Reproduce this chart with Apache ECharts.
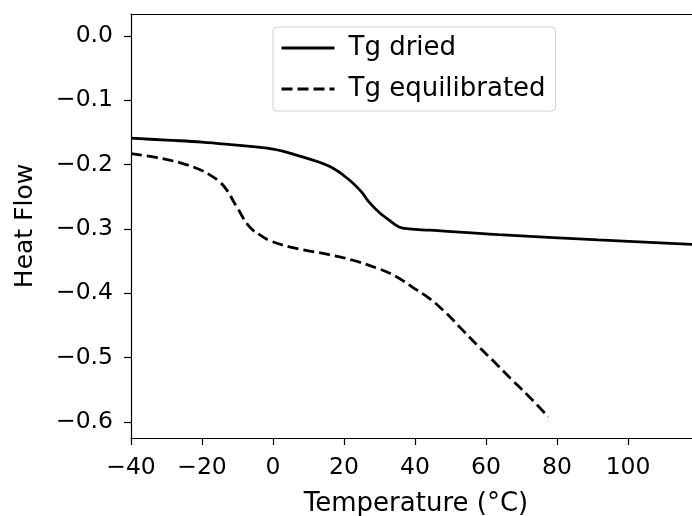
<!DOCTYPE html>
<html>
<head>
<meta charset="utf-8">
<script src="https://cdn.jsdelivr.net/npm/echarts@6/dist/echarts.min.js"></script>
<style>
  html, body { margin: 0; padding: 0; background: #fff; }
  #chart { width: 692px; height: 516px; }
</style>
</head>
<body>
<div id="chart"></div>
<script>
// temperature (°C) and heat flow
const driedTemp = [-40, -30, -20, -12, 0, 7.5, 16, 21.5, 25, 27, 30, 32.6, 35.5, 38.3, 44, 63.5, 91.6, 118];
const driedFlow = [-0.159, -0.162, -0.165, -0.169, -0.176, -0.187, -0.203, -0.224, -0.243, -0.258, -0.275, -0.286, -0.297, -0.300, -0.302, -0.309, -0.317, -0.324];

const equilTemp = [-40, -33, -26.3, -21, -17.8, -15, -13.1, -10.3, -6.6, -3.5, -1, 4.6, 10, 15.8, 22, 29.8, 35, 39.1, 44, 48.6, 53, 57.9, 62, 67.2, 72, 77.5];
const equilFlow = [-0.183, -0.189, -0.197, -0.207, -0.216, -0.227, -0.239, -0.265, -0.297, -0.310, -0.318, -0.328, -0.334, -0.340, -0.348, -0.362, -0.375, -0.390, -0.408, -0.430, -0.455, -0.483, -0.505, -0.534, -0.560, -0.592];

const xTicks = [-40, -20, 0, 20, 40, 60, 80, 100];
const yTicks = [0.0, -0.1, -0.2, -0.3, -0.4, -0.5, -0.6];

const font = "DejaVu Sans";
const pair = (xs, ys) => xs.map((x, i) => [x, ys[i]]);
const minus = s => s.replace("-", "\u2212");
const spine = { show: true, onZero: false, lineStyle: { color: "#000", width: 1.2 } };

const chart = echarts.init(document.getElementById("chart"));

chart.setOption({
  animation: false,
  backgroundColor: "#fff",
  textStyle: { fontFamily: font },
  grid: { left: 131, right: 0, top: 14, bottom: 78, outerBoundsMode: "none", containLabel: false },
  legend: {
    orient: "vertical",
    left: 273, top: 27,
    itemWidth: 53, itemHeight: 26, itemGap: 15,
    padding: [8, 10, 9, 7],
    borderColor: "#d0d0d0", borderWidth: 1, borderRadius: 4,
    itemStyle: { opacity: 0 },
    lineStyle: { width: 3 },
    textStyle: { fontFamily: font, fontSize: 26, lineHeight: 26, color: "#000", padding: [0, 0, 0, 9] }
  },
  xAxis: [
    {
      type: "value", min: -40, max: 118,
      name: "Temperature (°C)", nameLocation: "middle", nameGap: 53,
      nameTextStyle: { fontFamily: font, fontSize: 26, color: "#000", padding: [0, 0, 0, 9] },
      axisLine: spine,
      axisTick: { show: true, length: 7, customValues: xTicks, lineStyle: { color: "#000", width: 1.2 } },
      axisLabel: { customValues: xTicks, margin: 18, fontSize: 23.5, color: "#000", formatter: v => minus(String(v)) },
      splitLine: { show: false }
    },
    {
      type: "value", min: -40, max: 118, position: "top",
      axisLine: spine, axisTick: { show: false }, axisLabel: { show: false }, splitLine: { show: false }
    }
  ],
  yAxis: {
    type: "value", min: -0.625, max: 0.034,
    name: "Heat Flow", nameLocation: "middle", nameGap: 93, nameRotate: 90,
    nameTextStyle: { fontFamily: font, fontSize: 25, color: "#000" },
    axisLine: spine,
    axisTick: { show: true, length: 7, customValues: yTicks, lineStyle: { color: "#000", width: 1.2 } },
    axisLabel: { customValues: yTicks, margin: 18, fontSize: 23.5, color: "#000", formatter: v => minus(v.toFixed(1)) },
    splitLine: { show: false }
  },
  series: [
    {
      name: "Tg dried", type: "line", data: pair(driedTemp, driedFlow),
      symbol: "none", smooth: 0.4,
      itemStyle: { color: "#000" },
      lineStyle: { color: "#000", width: 2.8 }
    },
    {
      name: "Tg equilibrated", type: "line", data: pair(equilTemp, equilFlow),
      symbol: "none", smooth: 0.4,
      itemStyle: { color: "#000" },
      lineStyle: { color: "#000", width: 2.8, type: [11, 5] }
    }
  ]
});
</script>
</body>
</html>
